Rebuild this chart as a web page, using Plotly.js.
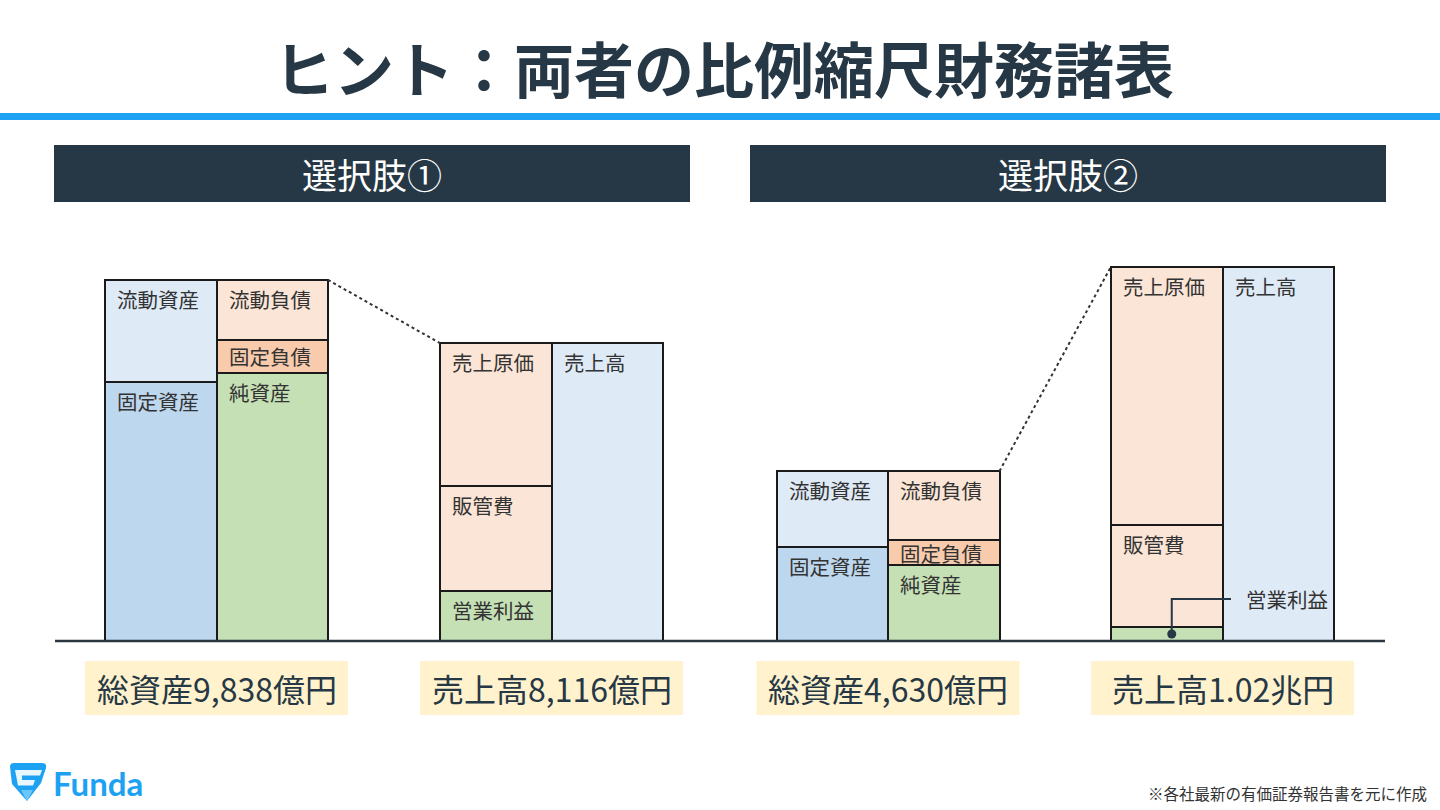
<!DOCTYPE html>
<html><head><meta charset="utf-8">
<script src="https://cdn.plot.ly/plotly-3.0.1.min.js"></script>
<style>html,body{margin:0;padding:0;background:#fff;}#chart{width:1440px;height:810px;}</style>
</head><body><div id="chart"></div>
<script>
// ---- data (億円) ----
const options = ['選択肢①', '選択肢②'];
const currentAssets = [2790, 2082];
const fixedAssets = [7048, 2548];
const currentLiab = [1635, 1890];
const fixedLiab = [900, 657];
const netAssets = [7303, 2083];
const cogs = [3880, 7026];
const sga = [2870, 2794];
const opIncome = [1366, 380];
const sales = [8116, 10200];
const totalAssetLabels = ['総資産9,838億円', '総資産4,630億円'];
const salesLabels = ['売上高8,116億円', '売上高1.02兆円'];

// ---- layout geometry ----
const W = 1440, H = 810;
const S = 0.0367;      // px per 億円
const BASE = 641;      // baseline pixel
const colW = 111.5;
const bsLeft = [105, 776.5];
const plLeft = [440, 1111];
const assetsX = bsLeft.map(l => l + colW / 2);
const liabX = bsLeft.map(l => l + colW * 1.5);
const costX = plLeft.map(l => l + colW / 2);
const salesX = plLeft.map(l => l + colW * 1.5);
const yPx = py => (BASE - py) / S;
const px = x => x / W, py = y => 1 - y / H;

const FONT = '"Noto Sans CJK JP", "Noto Sans", sans-serif';
const DARK = '#263845';
const LINE = '#1a1a1a';
const C = {
  ca: '#deeaf6', fa: '#bdd7ee', cl: '#fbe5d6', fl: '#f8cbad', na: '#c5e0b4',
  cogs: '#fbe5d6', sga: '#fbe5d6', op: '#c5e0b4', sales: '#deeaf6'
};

function bar(xs, ys, color) {
  return {type: 'bar', x: xs, y: ys, width: colW,
    marker: {color: color, line: {color: LINE, width: 2}},
    hoverinfo: 'skip', showlegend: false};
}
const traces = [
  bar(assetsX, fixedAssets, C.fa),
  bar(assetsX, currentAssets, C.ca),
  bar(liabX, netAssets, C.na),
  bar(liabX, fixedLiab, C.fl),
  bar(liabX, currentLiab, C.cl),
  bar(costX, opIncome, C.op),
  bar(costX, sga, C.sga),
  bar(costX, cogs, C.cogs),
  bar(salesX, sales, C.sales)
];

const annotations = [];
const shapes = [];
const LBL = {family: FONT, size: 20.5, color: '#333'};
function lab(text, xLeft, yTop) {
  annotations.push({text: text, x: xLeft + 10, y: yTop, xref: 'x', yref: 'y',
    xanchor: 'left', yanchor: 'top', yshift: -2, showarrow: false, font: LBL});
}
function labMid(text, xLeft, yMid) {
  annotations.push({text: text, x: xLeft + 10, y: yMid, xref: 'x', yref: 'y',
    xanchor: 'left', yanchor: 'middle', showarrow: false, font: LBL});
}

options.forEach((o, i) => {
  const aL = bsLeft[i], lL = bsLeft[i] + colW, cL = plLeft[i], sL = plLeft[i] + colW;
  const totA = currentAssets[i] + fixedAssets[i];
  const totL = currentLiab[i] + fixedLiab[i] + netAssets[i];
  const totS = cogs[i] + sga[i] + opIncome[i];
  lab('流動資産', aL, totA);
  lab('固定資産', aL, fixedAssets[i]);
  lab('流動負債', lL, totL);
  labMid('固定負債', lL, netAssets[i] + fixedLiab[i] / 2);
  lab('純資産', lL, netAssets[i]);
  lab('売上原価', cL, totS);
  lab('販管費', cL, sga[i] + opIncome[i]);
  lab('売上高', sL, sales[i]);
  if (opIncome[i] * S > 30) {
    lab('営業利益', cL, opIncome[i]);
  } else {
    const lx = costX[i] + 5, ly = yPx(599);
    annotations.push({text: '営業利益', x: sL + 21, y: ly, xref: 'x', yref: 'y',
      xanchor: 'left', yanchor: 'middle', showarrow: false, font: LBL});
    shapes.push({type: 'path', xref: 'x', yref: 'y',
      path: `M ${lx},${opIncome[i] / 2} L ${lx},${ly} L ${sL + 8.5},${ly}`,
      line: {color: DARK, width: 2}});
    const r = 4.5;
    shapes.push({type: 'circle', xref: 'x', yref: 'y', x0: lx - r, x1: lx + r,
      y0: opIncome[i] / 2 - r / S, y1: opIncome[i] / 2 + r / S,
      fillcolor: DARK, line: {color: DARK, width: 0}});
  }
  // dotted connector
  shapes.push({type: 'line', xref: 'x', yref: 'y', x0: lL + colW, y0: totL, x1: cL, y1: totS,
    line: {color: '#333', width: 2, dash: 'dot'}});
  // yellow boxes
  const bsC = bsLeft[i] + colW, plC = plLeft[i] + colW;
  [[bsC, totalAssetLabels[i]], [plC, salesLabels[i]]].forEach(([cx, t]) => {
    shapes.push({type: 'rect', xref: 'paper', yref: 'paper', x0: px(cx - 131.5), x1: px(cx + 131.5),
      y0: py(715), y1: py(661), fillcolor: '#fff2cc', line: {width: 0}, layer: 'below'});
    annotations.push({text: t, xref: 'paper', yref: 'paper', x: px(cx), y: py(688),
      xanchor: 'center', yanchor: 'middle', showarrow: false,
      font: {family: FONT, size: 32, color: DARK}});
  });
  // header bar
  const hx0 = i === 0 ? 54 : 750, hx1 = hx0 + 636;
  shapes.push({type: 'rect', xref: 'paper', yref: 'paper', x0: px(hx0), x1: px(hx1),
    y0: py(202), y1: py(145), fillcolor: DARK, line: {width: 0}, layer: 'below'});
  annotations.push({text: o, xref: 'paper', yref: 'paper', x: px((hx0 + hx1) / 2), y: py(174),
    xanchor: 'center', yanchor: 'middle', showarrow: false,
    font: {family: FONT, size: 35, color: '#ffffff'}});
});

// baseline
shapes.push({type: 'line', xref: 'x', yref: 'y', x0: 55, x1: 1385, y0: 0, y1: 0,
  line: {color: '#2b3640', width: 2.5}});
// title underline
shapes.push({type: 'rect', xref: 'paper', yref: 'paper', x0: 0, x1: 1, y0: py(120), y1: py(113),
  fillcolor: '#1da1f2', line: {width: 0}});
// logo icon
const L = (x, y) => `${px(x)},${py(y)}`;
shapes.push({type: 'path', xref: 'paper', yref: 'paper',
  path: `M ${L(10,767)} Q ${L(10,763)} ${L(14,763)} L ${L(42,763)} Q ${L(47,763)} ${L(46,768)} L ${L(41,783)} L ${L(27,801)} L ${L(12,784)} Z`,
  fillcolor: '#1da1f2', line: {width: 0}});
shapes.push({type: 'path', xref: 'paper', yref: 'paper',
  path: `M ${L(15,770)} L ${L(42,770)} L ${L(40,775.5)} L ${L(22,775.5)} L ${L(22,780)} L ${L(35,780)} L ${L(33,785.5)} L ${L(18,785.5)} Z`,
  fillcolor: '#ffffff', line: {width: 0}, opacity: 0.9});
shapes.push({type: 'path', xref: 'paper', yref: 'paper',
  path: `M ${L(27,801)} L ${L(21,790)} L ${L(33,790)} Z`,
  fillcolor: '#7fd0fb', line: {width: 0}, opacity: 0.8});

annotations.push({text: 'ヒント：両者の比例縮尺財務諸表', xref: 'paper', yref: 'paper',
  x: px(724), y: py(67), xanchor: 'center', yanchor: 'middle', showarrow: false,
  font: {family: FONT, size: 60, color: DARK, weight: 'bold'}});
annotations.push({text: '<b>Funda</b>', xref: 'paper', yref: 'paper',
  x: px(51), y: py(783), xanchor: 'left', yanchor: 'middle', showarrow: false,
  font: {family: 'Lato, "Open Sans", sans-serif', size: 33, color: '#1da1f2'}});
annotations.push({text: '※各社最新の有価証券報告書を元に作成', xref: 'paper', yref: 'paper',
  x: px(1429), y: py(793), xanchor: 'right', yanchor: 'middle', showarrow: false,
  font: {family: FONT, size: 15.5, color: '#333'}});

const layout = {
  width: W, height: H, margin: {l: 0, r: 0, t: 0, b: 0},
  paper_bgcolor: '#ffffff', plot_bgcolor: '#ffffff',
  barmode: 'stack',
  xaxis: {range: [0, W], visible: false, fixedrange: true},
  yaxis: {range: [-(H - BASE) / S, BASE / S], visible: false, fixedrange: true},
  shapes: shapes, annotations: annotations, showlegend: false,
  font: {family: FONT}
};
Plotly.newPlot('chart', traces, layout, {displayModeBar: false, staticPlot: true});
</script></body></html>
